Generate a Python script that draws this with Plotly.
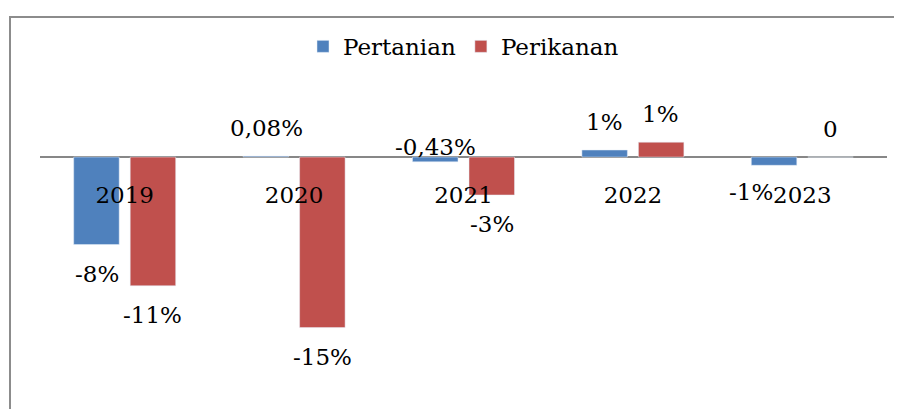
import plotly.graph_objects as go

years = ["2019", "2020", "2021", "2022", "2023"]
pertanian = [-7.95, 0.08, -0.43, 0.64, -0.75]
perikanan = [-11.7, -15.5, -3.45, 1.35, 0.0]
pertanian_labels = ["-8%", "0,08%", "-0,43%", "1%", "-1%"]
perikanan_labels = ["-11%", "-15%", "-3%", "1%", "0"]

BLUE = "#4f81bd"
RED = "#c0504d"
GRAY = "#878787"
FONT = "DejaVu Serif"
FS = 23

ymin, ymax = -22.9, 12.73

fig = go.Figure()
fig.add_trace(go.Bar(name="Pertanian", x=years, y=pertanian, marker_color=BLUE))
fig.add_trace(go.Bar(name="Perikanan", x=years, y=perikanan, marker_color=RED))

# label placement tweaks (pixels), per (series, index)
label_shift = {(0, 2): (0, 15), (0, 4): (-23, -27)}

for si, (vals, labels) in enumerate([(pertanian, pertanian_labels), (perikanan, perikanan_labels)]):
    base_dx = -28 if si == 0 else 28
    for i, (v, t) in enumerate(zip(vals, labels)):
        dx, dy = base_dx, (28 if v >= 0 else -29)
        if (si, i) in label_shift:
            ddx, dy = label_shift[(si, i)]
            dx = base_dx + ddx
        fig.add_annotation(x=i, y=v, xref="x", yref="y", text=t, showarrow=False,
                           xshift=dx, yshift=dy,
                           font=dict(family=FONT, size=FS, color="#000000"))

zero_pos = (0 - ymin) / (ymax - ymin)

fig.update_layout(
    width=894, height=401,
    margin=dict(l=32, r=15, t=9, b=0),
    paper_bgcolor="white", plot_bgcolor="white",
    barmode="group", bargap=0.333, bargroupgap=0.195,
    font=dict(family=FONT, size=FS, color="#000000"),
    showlegend=True,
    legend=dict(orientation="h", x=0.5, xanchor="center", y=0.925, yanchor="middle",
                font=dict(family=FONT, size=FS), traceorder="normal",
                bgcolor="rgba(0,0,0,0)"),
    xaxis=dict(type="category", range=[-0.5, 4.5], autorange=False,
               anchor="free", position=zero_pos, showline=False,
               showgrid=False, ticks="", ticklabelstandoff=22,
               tickfont=dict(family=FONT, size=FS, color="#000000")),
    yaxis=dict(range=[ymin, ymax], autorange=False, showgrid=False, showticklabels=False,
               zeroline=True, zerolinecolor=GRAY, zerolinewidth=2, showline=False),
)

# outer frame (top and left edges visible)
fx0 = (10 - 40) / 847
fig.add_shape(type="rect", xref="paper", yref="paper", x0=fx0, x1=1.2, y0=-0.2, y1=1.0,
              line=dict(color="#8c8c8c", width=2), fillcolor="rgba(0,0,0,0)", layer="below")

fig.write_html("out.html")
